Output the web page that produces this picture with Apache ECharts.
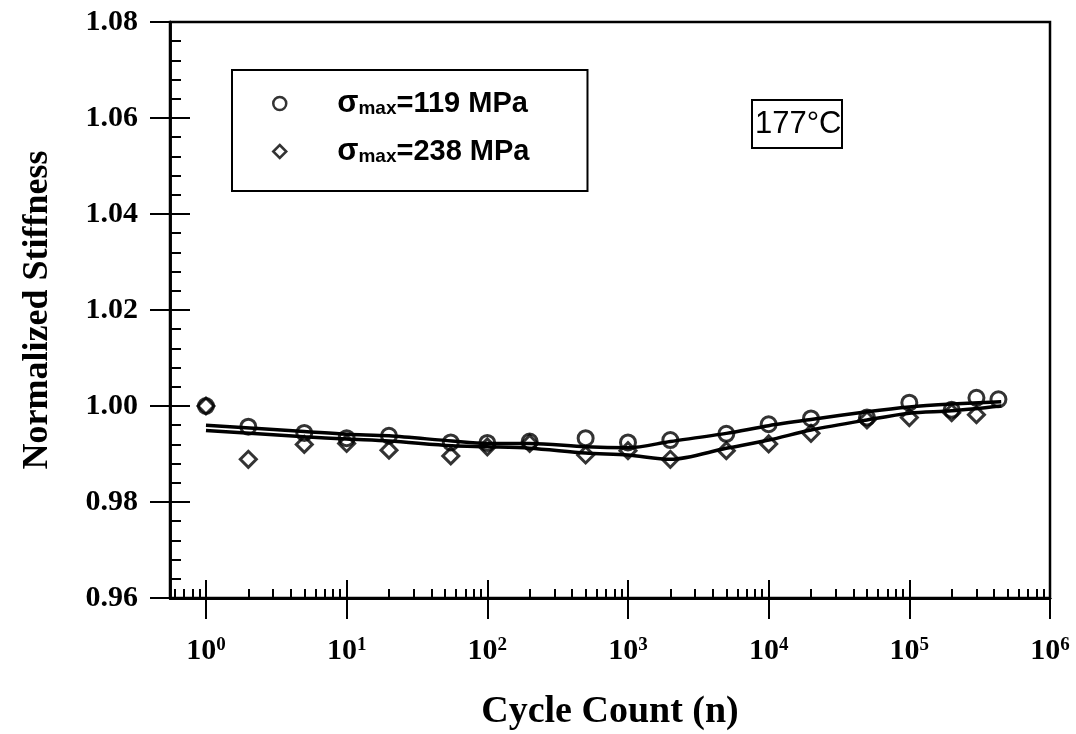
<!DOCTYPE html>
<html>
<head>
<meta charset="utf-8">
<script src="https://cdn.jsdelivr.net/npm/echarts@6/dist/echarts.min.js"></script>
<style>
html,body{margin:0;padding:0;background:#fff;}
#chart{width:1076px;height:734px;}
</style>
</head>
<body>
<div id="chart"></div>
<script>
// 数据
var circleX = [1, 2, 5, 10, 20, 55, 100, 200, 500, 1000, 2000, 5000, 1e4, 2e4, 5e4, 1e5, 2e5, 3e5, 4.3e5];
var circleY = [1.0000, 0.9957, 0.9944, 0.9933, 0.9938, 0.9924, 0.9923, 0.9926, 0.9933, 0.9924, 0.9929, 0.9942, 0.9962, 0.9974, 0.9976, 1.0007, 0.9992, 1.0017, 1.0014];
var diamondX = [1, 2, 5, 10, 20, 55, 100, 200, 500, 1000, 2000, 5000, 1e4, 2e4, 5e4, 1e5, 2e5, 3e5];
var diamondY = [1.0000, 0.9889, 0.9920, 0.9922, 0.9908, 0.9896, 0.9915, 0.9922, 0.9898, 0.9907, 0.9889, 0.9907, 0.9921, 0.9943, 0.9971, 0.9976, 0.9986, 0.9982];

// fitted curves
var fitX = [1, 5, 10, 20, 56, 100, 200, 500, 1000, 2000, 5000, 1e4, 2e4, 5e4, 1e5, 2e5, 4.5e5];
var fitUpper = [0.9960, 0.9947, 0.9941, 0.9938, 0.9927, 0.9922, 0.9922, 0.9915, 0.9913, 0.9926, 0.9943, 0.9959, 0.9972, 0.9988, 0.9998, 1.0004, 1.0009];
var fitLower = [0.9949, 0.9936, 0.9931, 0.9927, 0.9917, 0.9915, 0.9912, 0.9902, 0.9898, 0.9889, 0.9912, 0.9929, 0.9950, 0.9971, 0.9985, 0.9990, 1.0000];

var seriesNames = ['119', '238'];
var decades = [1, 10, 100, 1000, 1e4, 1e5, 1e6];
var minorX = [0.6, 0.7, 0.8, 0.9,
  2, 3, 4, 5, 6, 7, 8, 9,
  20, 30, 40, 50, 60, 70, 80, 90,
  200, 300, 400, 500, 600, 700, 800, 900,
  2000, 3000, 4000, 5000, 6000, 7000, 8000, 9000,
  2e4, 3e4, 4e4, 5e4, 6e4, 7e4, 8e4, 9e4,
  2e5, 3e5, 4e5, 5e5, 6e5, 7e5, 8e5, 9e5];

function zip(xs, ys){
  var out = [];
  for(var i=0;i<xs.length;i++) out.push([xs[i], ys[i]]);
  return out;
}

var serif = '"Liberation Serif", "DejaVu Serif", serif';
var sans = '"Liberation Sans", Arial, sans-serif';
var axisLine = {show:true, onZero:false, lineStyle:{color:'#000', width:2.5}};

var myChart = echarts.init(document.getElementById('chart'));

var option = {
  animation: false,
  backgroundColor: '#fff',
  title: {
    text: '177°C',
    left: 752, top: 100,
    padding: [9, 1, 8, 3],
    borderColor: '#000', borderWidth: 2,
    textStyle: {fontFamily: sans, fontSize: 31, fontWeight: 'normal', color: '#000'}
  },
  legend: {
    orient: 'vertical',
    left: 232, top: 70,
    padding: [18, 58, 24, 40],
    itemGap: 17,
    itemWidth: 13, itemHeight: 13,
    borderColor: '#000', borderWidth: 2,
    data: seriesNames,
    itemStyle: {color: 'rgba(0,0,0,0)', borderWidth: 2.5, borderColor: '#000'},
    formatter: function(name){
      return '{s|σ}{sub|max}{t|=' + name + ' MPa}';
    },
    textStyle: {
      padding: [0, 0, 0, 46],
      rich: {
        s: {fontFamily: sans, fontSize: 31, fontWeight: 'bold', color: '#000', verticalAlign: 'middle', lineHeight: 30},
        sub: {fontFamily: sans, fontSize: 19, fontWeight: 'bold', color: '#000', verticalAlign: 'bottom', lineHeight: 30},
        t: {fontFamily: sans, fontSize: 29, fontWeight: 'bold', color: '#000', verticalAlign: 'middle', lineHeight: 30}
      }
    }
  },
  grid: {left: 170, right: 26, top: 22, bottom: 136, show: true, borderColor: '#000', borderWidth: 2.5,
    containLabel: false, outerBoundsMode: 'none'},
  xAxis: [
    {
      type: 'log', logBase: 10, min: 0.555, max: 1e6, position: 'bottom',
      name: 'Cycle Count (n)', nameLocation: 'middle', nameGap: 95,
      nameTextStyle: {fontFamily: serif, fontSize: 38, fontWeight: 'bold', color: '#000'},
      axisLine: axisLine,
      splitLine: {show: false},
      minorTick: {show: false},
      axisTick: {show: true, inside: false, length: 21, customValues: decades, lineStyle: {color: '#000', width: 2}},
      axisLabel: {
        customValues: decades, margin: 38,
        formatter: function(v){
          var e = Math.round(Math.log10(v));
          return '{b|10}{s|' + e + '}';
        },
        rich: {
          b: {fontFamily: serif, fontSize: 30, fontWeight: 'bold', color: '#000', verticalAlign: 'bottom', lineHeight: 30},
          s: {fontFamily: serif, fontSize: 19, fontWeight: 'bold', color: '#000', verticalAlign: 'top', lineHeight: 30}
        }
      }
    },
    {
      type: 'log', logBase: 10, min: 0.555, max: 1e6, position: 'bottom',
      axisLine: axisLine, splitLine: {show: false},
      axisTick: {show: true, inside: true, length: 18, customValues: decades, lineStyle: {color: '#000', width: 2}},
      axisLabel: {show: false}
    },
    {
      type: 'log', logBase: 10, min: 0.555, max: 1e6, position: 'bottom',
      axisLine: axisLine, splitLine: {show: false},
      axisTick: {show: true, inside: true, length: 9, customValues: minorX, lineStyle: {color: '#000', width: 2}},
      axisLabel: {show: false}
    }
  ],
  yAxis: [
    {
      type: 'value', min: 0.96, max: 1.08, interval: 0.02,
      name: 'Normalized Stiffness', nameLocation: 'middle', nameGap: 114, nameRotate: 90,
      nameTextStyle: {fontFamily: serif, fontSize: 36, fontWeight: 'bold', color: '#000'},
      axisLine: axisLine, splitLine: {show: false},
      axisTick: {show: true, inside: false, length: 20, lineStyle: {color: '#000', width: 2}},
      axisLabel: {
        margin: 32, color: '#000', fontFamily: serif, fontSize: 30, fontWeight: 'bold',
        formatter: function(v){ return v.toFixed(2); }
      }
    },
    {
      type: 'value', min: 0.96, max: 1.08, interval: 0.02, position: 'left',
      axisLine: axisLine, splitLine: {show: false},
      axisTick: {show: true, inside: true, length: 20, lineStyle: {color: '#000', width: 2}},
      minorTick: {show: true, splitNumber: 5, length: 11, lineStyle: {color: '#000', width: 2}},
      axisLabel: {show: false}
    }
  ],
  series: [
    {
      type: 'line', xAxisIndex: 0, yAxisIndex: 0, data: zip(fitX, fitUpper),
      symbol: 'none', smooth: 0.3, lineStyle: {color: '#000', width: 3.5}, z: 2
    },
    {
      type: 'line', xAxisIndex: 0, yAxisIndex: 0, data: zip(fitX, fitLower),
      symbol: 'none', smooth: 0.3, lineStyle: {color: '#000', width: 3.5}, z: 2
    },
    {
      name: seriesNames[0], type: 'scatter', xAxisIndex: 0, yAxisIndex: 0,
      data: zip(circleX, circleY), symbol: 'circle', symbolSize: 15,
      itemStyle: {color: 'rgba(0,0,0,0)', borderColor: '#000', borderWidth: 3}, z: 3
    },
    {
      name: seriesNames[1], type: 'scatter', xAxisIndex: 0, yAxisIndex: 0,
      data: zip(diamondX, diamondY), symbol: 'diamond', symbolSize: 16,
      itemStyle: {color: 'rgba(0,0,0,0)', borderColor: '#000', borderWidth: 3}, z: 3
    }
  ]
};
myChart.setOption(option);
</script>
</body>
</html>
